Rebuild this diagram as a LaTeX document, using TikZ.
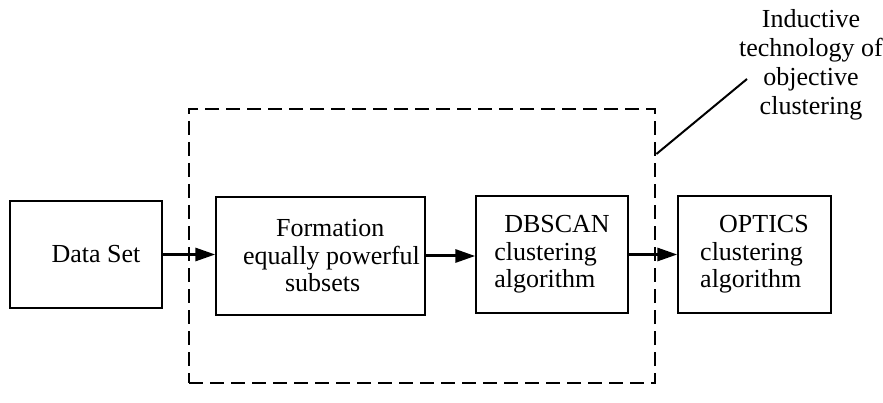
\documentclass[tikz,border=0pt]{standalone}
\usepackage{fontspec}
\setmainfont{Liberation Serif}
\usetikzlibrary{positioning, arrows.meta}

\tikzset{
    block/.style={draw, line width=1.4pt, inner sep=0pt, align=left},
    flow/.style={-{Triangle[length=20pt, width=13pt]}, line width=3pt},
    group/.style={draw, dash pattern=on 14pt off 7pt, line width=2.8pt, inner sep=0pt},
}

\begin{document}
\begin{tikzpicture}[x=1pt, y=-1pt, font=\fontsize{26}{27.5}\selectfont]
    \useasboundingbox (0,0) rectangle (883,403);

    % dashed group
    \node[group, minimum width=466pt, minimum height=274pt] (induct) at (422,246) {};

    % blocks
    \node[block, minimum width=152pt, minimum height=107pt] (data) at (86,254.5)
        {\hspace*{20pt}Data Set};
    \node[block, minimum width=209pt, minimum height=118pt] (form) at (320.5,256)
        {\hspace*{55pt}Formation\\\hspace*{22pt}equally powerful\\\hspace*{64pt}subsets};
    \node[block, minimum width=152pt, minimum height=117pt] (dbscan) at (552,254.5)
        {\hspace*{10pt}DBSCAN\\clustering\\algorithm};
    \node[block, minimum width=153pt, minimum height=117pt] (optics) at (754.5,254.5)
        {\hspace*{19pt}OPTICS\\clustering\\algorithm};

    % arrows
    \draw[flow] (data.east) -- (data.east -| form.west);
    \draw[flow] (form.east) -- (form.east -| dbscan.west);
    \draw[flow] (dbscan.east) -- (dbscan.east -| optics.west);

    % caption
    \node[align=center, font=\fontsize{26}{29}\selectfont] (caption) at (811,65)
        {Inductive\\technology of\\objective\\clustering};
    \coordinate (hook) at (induct.east |- 0,154);
    \coordinate (tip) at (747,79);
    \draw[line width=2pt] (hook) -- (tip);
\end{tikzpicture}
\end{document}
